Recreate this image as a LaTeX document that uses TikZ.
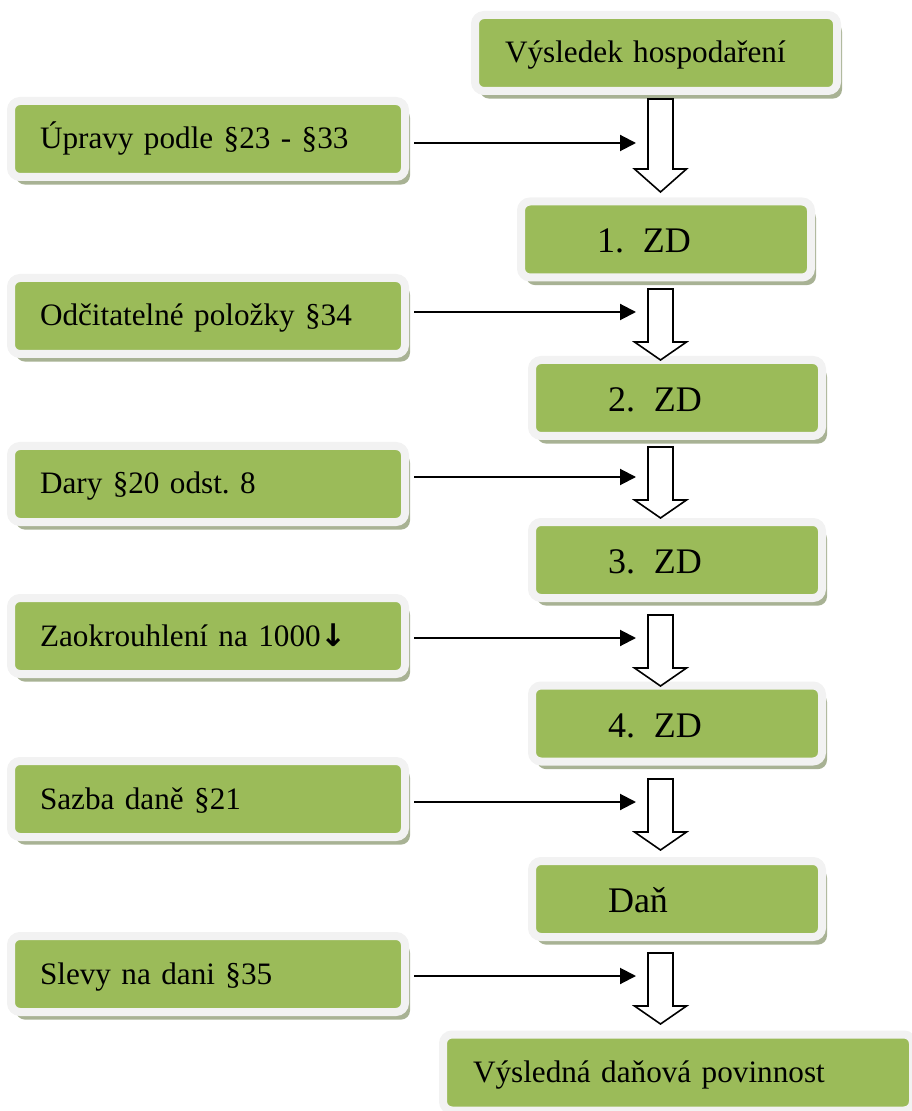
\documentclass[tikz,border=0pt]{standalone}
\usepackage{fontspec}
\setmainfont{Liberation Serif}
\newfontfamily\symfont{DejaVu Sans}
\usepackage{xcolor}
\usepackage{tikz}
\usetikzlibrary{arrows.meta,calc,shadows}
\frenchspacing

\definecolor{boxgreen}{RGB}{155,187,89}
\definecolor{boxrim}{RGB}{242,242,242}
\definecolor{boxshade}{RGB}{168,178,148}

% block arrow: top, tip, head length
\newcommand{\blockarr}[3]{%
  \draw[blockarr] ($(#1)+(-12.5,0)$) -- ($(#1)+(12.5,0)$) -- ($(#2)+(12.5,-#3)$)
    -- ($(#2)+(26,-#3)$) -- (#2) -- ($(#2)+(-26,-#3)$) -- ($(#2)+(-12.5,-#3)$) -- cycle;}

\begin{document}
\begin{tikzpicture}[x=0.5pt,y=-0.5pt,
  box/.style={draw=boxrim, line width=4pt, fill=boxgreen, rounded corners=4.5pt,
    drop shadow={shadow xshift=2.5pt, shadow yshift=-3.8pt, fill=boxshade, opacity=1},
    minimum height=38pt, inner ysep=0pt, text height=12.5pt, text depth=2.5pt,
    align=left, font=\fontsize{15.6}{19}\selectfont},
  leftbox/.style={box, text width=168pt, inner xsep=14.5pt},
  widebox/.style={box, text width=#1, inner xsep=15pt},
  zdbox/.style={box, text width=69pt, inner xsep=38pt, text height=13.5pt, text depth=0pt,
    font=\fontsize{18}{22}\selectfont},
  feed/.style={line width=1pt, -{Triangle[length=8pt,width=8pt]}, shorten <=2.5pt},
  blockarr/.style={draw=black, fill=white, line width=0.8pt, line join=miter}]
\useasboundingbox (0,0) rectangle (911,1111);

% right column
\node[widebox=151pt] (vh) at (656,53) {Výsledek hospodaření};
\node[zdbox] (zd1) at (666,239.5) {1.\hspace{9.5pt}ZD};
\node[zdbox] (zd2) at (677,398) {2.\hspace{9.5pt}ZD};
\node[zdbox] (zd3) at (677,560) {3.\hspace{9.5pt}ZD};
\node[zdbox] (zd4) at (677,723.5) {4.\hspace{9.5pt}ZD};
\node[zdbox] (dan) at (677,899) {Daň};
\node[widebox=205pt] (vdp) at (678,1072.5) {Výsledná daňová povinnost};

% left column
\node[leftbox] (upr) at (208,139) {Úpravy podle §23 - §33};
\node[leftbox] (odc) at (208,316) {Odčitatelné položky §34};
\node[leftbox] (dar) at (208,484) {Dary §20 odst. 8};
\node[leftbox] (zao) at (208,636) {Zaokrouhlení na 1000{\symfont\bfseries ↓}};
\node[leftbox] (saz) at (208,799) {Sazba daně §21};
\node[leftbox] (sle) at (208,974) {Slevy na dani §35};

% block arrows
\coordinate (a1t) at (660.5,99);   \coordinate (a1h) at (660.5,192);
\coordinate (a2t) at (660.5,289);  \coordinate (a2h) at (660.5,360);
\coordinate (a3t) at (660.5,447);  \coordinate (a3h) at (660.5,518);
\coordinate (a4t) at (660.5,615);  \coordinate (a4h) at (660.5,686);
\coordinate (a5t) at (660.5,779);  \coordinate (a5h) at (660.5,850);
\coordinate (a6t) at (660.5,953);  \coordinate (a6h) at (660.5,1024);
\blockarr{a1t}{a1h}{23}
\blockarr{a2t}{a2h}{18}
\blockarr{a3t}{a3h}{18}
\blockarr{a4t}{a4h}{18}
\blockarr{a5t}{a5h}{18}
\blockarr{a6t}{a6h}{18}

% feeding arrows
\coordinate (in1) at (636,143);
\coordinate (in2) at (636,312);
\coordinate (in3) at (636,477);
\coordinate (in4) at (636,638);
\coordinate (in5) at (636,802);
\coordinate (in6) at (636,976);
\draw[feed] (upr.east |- in1) -- (in1);
\draw[feed] (odc.east |- in2) -- (in2);
\draw[feed] (dar.east |- in3) -- (in3);
\draw[feed] (zao.east |- in4) -- (in4);
\draw[feed] (saz.east |- in5) -- (in5);
\draw[feed] (sle.east |- in6) -- (in6);
\end{tikzpicture}
\end{document}
